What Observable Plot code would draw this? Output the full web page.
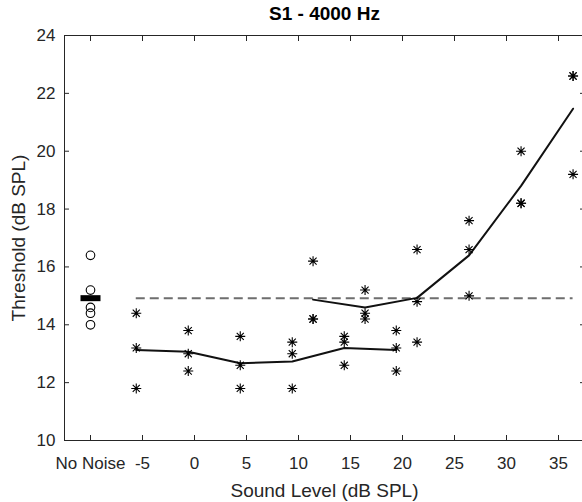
<!DOCTYPE html>
<html>
<head>
<meta charset="utf-8">
<script src="https://cdn.jsdelivr.net/npm/d3@7"></script>
<script src="https://cdn.jsdelivr.net/npm/@observablehq/plot@0.6"></script>
<style>
  html, body { margin: 0; padding: 0; background: #fff; }
</style>
</head>
<body>
<div id="chart"></div>
<script>
// ---- data ----
const titleText = "S1 - 4000 Hz";
const xLabel = "Sound Level (dB SPL)";
const yLabel = "Threshold (dB SPL)";

const xTickValues = [-10, -5, 0, 5, 10, 15, 20, 25, 30, 35];
const xTickLabels = ["No Noise", "-5", "0", "5", "10", "15", "20", "25", "30", "35"];
const yTickValues = [10, 12, 14, 16, 18, 20, 22, 24];

// No-noise condition
const noNoiseX = -10;
const noNoiseThresholds = [16.4, 15.2, 14.6, 14.4, 14.0];
const noNoiseMean = 14.92;

// Series A (lower levels)
const levelsA = [-5.6, -0.6, 4.4, 9.4, 14.4, 19.4];
const thresholdsA = [
  [14.4, 13.2, 11.8],
  [13.8, 13.0, 12.4],
  [13.6, 12.6, 11.8],
  [13.4, 13.0, 11.8],
  [13.6, 13.4, 12.6],
  [13.8, 13.2, 12.4]
];
const meansA = [13.13, 13.07, 12.67, 12.73, 13.2, 13.13];

// Series B (higher levels)
const levelsB = [11.4, 16.4, 21.4, 26.4, 31.4, 36.4];
const thresholdsB = [
  [16.2, 14.2, 14.2],
  [15.2, 14.4, 14.2],
  [16.6, 14.8, 13.4],
  [17.6, 16.6, 15.0],
  [20.0, 18.2, 18.2],
  [22.6, 22.6, 19.2]
];
const meansB = [14.87, 14.6, 14.93, 16.4, 18.8, 21.47];

// ---- derived tables ----
const noNoisePts = noNoiseThresholds.map(y => ({x: noNoiseX, y}));
const ptsA = levelsA.flatMap((x, i) => thresholdsA[i].map(y => ({x, y})));
const ptsB = levelsB.flatMap((x, i) => thresholdsB[i].map(y => ({x, y})));
const lineA = levelsA.map((x, i) => ({x, y: meansA[i]}));
const lineB = levelsB.map((x, i) => ({x, y: meansB[i]}));
const labelMap = new Map(xTickValues.map((v, i) => [v, xTickLabels[i]]));

// MATLAB-like "*" marker (plus + cross)
const asterisk = {
  draw(ctx, size) {
    const r = Math.sqrt(size / Math.PI);
    const d = r * Math.SQRT1_2;
    ctx.moveTo(-r, 0); ctx.lineTo(r, 0);
    ctx.moveTo(0, -r); ctx.lineTo(0, r);
    ctx.moveTo(-d, -d); ctx.lineTo(d, d);
    ctx.moveTo(-d, d); ctx.lineTo(d, -d);
  }
};
// thick horizontal bar for the no-noise mean
const meanBar = {
  draw(ctx, size) {
    ctx.rect(-10, -3, 20, 6);
  }
};

const ink = "#262626";

const chart = Plot.plot({
  width: 582,
  height: 502,
  marginLeft: 64,
  marginRight: -2,
  marginTop: 35,
  marginBottom: 62,
  style: {fontFamily: "'Liberation Sans', Arial, sans-serif", fontSize: "17px", color: ink, background: "#fff"},
  x: {domain: [-12.5, 37.5]},
  y: {domain: [10, 24]},
  marks: [
    Plot.frame({stroke: ink, strokeWidth: 1}),
    // inward ticks on all sides
    Plot.axisX(xTickValues, {anchor: "bottom", tickSize: -5, text: null, label: null, stroke: ink}),
    Plot.axisX(xTickValues, {anchor: "top", tickSize: -5, text: null, label: null, stroke: ink}),
    Plot.axisY(yTickValues, {anchor: "left", tickSize: -5, text: null, label: null, stroke: ink}),
    Plot.axisY(yTickValues, {anchor: "right", tickSize: -5, text: null, label: null, stroke: ink}),
    // tick labels
    Plot.axisX(xTickValues, {anchor: "bottom", tickSize: 0, tickPadding: 16, tickFormat: d => labelMap.get(d), label: null, fill: ink}),
    Plot.axisY(yTickValues, {anchor: "left", tickSize: 0, tickPadding: 9, label: null, fill: ink}),
    // dashed reference line at no-noise mean
    Plot.ruleY([noNoiseMean], {x1: levelsA[0], x2: levelsB[levelsB.length - 1], stroke: "#6e6e6e", strokeWidth: 2, strokeDasharray: "9,5"}),
    // mean lines
    Plot.line(lineA, {x: "x", y: "y", stroke: "#111", strokeWidth: 2}),
    Plot.line(lineB, {x: "x", y: "y", stroke: "#111", strokeWidth: 2}),
    // points
    Plot.dot(ptsA, {x: "x", y: "y", symbol: asterisk, r: 5, stroke: "#000", strokeWidth: 1.1}),
    Plot.dot(ptsB, {x: "x", y: "y", symbol: asterisk, r: 5, stroke: "#000", strokeWidth: 1.1}),
    Plot.dot(noNoisePts, {x: "x", y: "y", r: 4.3, stroke: "#000", strokeWidth: 1.1, fill: "none"}),
    Plot.dot([noNoiseMean], {x: () => noNoiseX, y: d => d, symbol: meanBar, fill: "#000", stroke: "none"}),
    // titles
    Plot.text([titleText], {frameAnchor: "top", lineAnchor: "middle", dy: -22, fontWeight: "bold", fontSize: 19, fill: "#000"}),
    Plot.text([xLabel], {frameAnchor: "bottom", lineAnchor: "middle", dy: 50, fontSize: 19, fill: ink}),
    Plot.text([yLabel], {frameAnchor: "left", textAnchor: "middle", lineAnchor: "middle", dx: -46, rotate: -90, fontSize: 19, fill: ink})
  ]
});
document.getElementById("chart").appendChild(chart);
</script>
</body>
</html>
